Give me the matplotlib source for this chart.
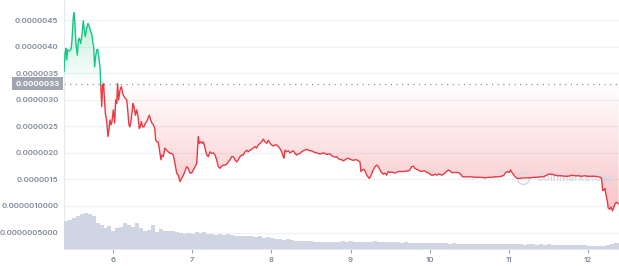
import numpy as np
import matplotlib
matplotlib.use("Agg")
import matplotlib.pyplot as plt
from matplotlib.path import Path
from matplotlib.patches import Rectangle

# price history: x = day of month, price in units of 1e-6 USD
days = [
    5.381, 5.394, 5.407, 5.415, 5.428, 5.448, 5.470, 5.482, 5.499, 5.508,
    5.519, 5.532, 5.549, 5.562, 5.574, 5.592, 5.605, 5.617, 5.625, 5.638,
    5.649, 5.668, 5.684, 5.701, 5.718, 5.731, 5.744, 5.755, 5.768, 5.780,
    5.794, 5.807, 5.819, 5.836, 5.845, 5.857, 5.870, 5.881, 5.890, 5.903,
    5.920, 5.937, 5.948, 5.962, 5.975, 5.987, 6.004, 6.021, 6.034, 6.047,
    6.058, 6.071, 6.088, 6.105, 6.122, 6.139, 6.155, 6.173, 6.189, 6.201,
    6.213, 6.226, 6.239, 6.253, 6.265, 6.282, 6.299, 6.316, 6.332, 6.345,
    6.357, 6.375, 6.391, 6.408, 6.425, 6.442, 6.458, 6.476, 6.492, 6.509,
    6.527, 6.539, 6.552, 6.568, 6.581, 6.593,
    6.606, 6.617, 6.635, 6.655, 6.678, 6.698, 6.720, 6.741, 6.761, 6.782,
    6.804, 6.824, 6.845, 6.867, 6.888, 6.908, 6.930, 6.949, 6.972, 6.993,
    7.014, 7.035, 7.057, 7.077, 7.090, 7.107, 7.124, 7.141, 7.162, 7.183,
    7.204, 7.225, 7.246, 7.266, 7.288, 7.309, 7.330, 7.351, 7.372, 7.393,
    7.414, 7.436, 7.456, 7.477, 7.499, 7.519, 7.540, 7.562, 7.582, 7.604,
    7.625, 7.645, 7.667, 7.688, 7.708, 7.730, 7.751, 7.771, 7.792, 7.813,
    7.834, 7.856, 7.877, 7.898, 7.919, 7.940, 7.961, 7.982, 8.004, 8.024,
    8.045, 8.067, 8.087, 8.109, 8.130, 8.150, 8.159, 8.172, 8.193, 8.213,
    8.235, 8.256, 8.277, 8.298, 8.318, 8.340, 8.361, 8.382, 8.403, 8.424,
    8.446, 8.466, 8.487, 8.509, 8.529, 8.551, 8.572, 8.592, 8.614, 8.635,
    8.656, 8.676, 8.698, 8.719, 8.740, 8.761, 8.782, 8.803, 8.824, 8.845,
    8.866, 8.888, 8.908, 8.929, 8.951, 8.971, 8.992, 9.014, 9.034, 9.056,
    9.077, 9.097, 9.119, 9.131, 9.148, 9.169, 9.186, 9.204, 9.224, 9.237,
    9.254, 9.270, 9.287, 9.308, 9.330, 9.346, 9.362, 9.380, 9.396, 9.413,
    9.433, 9.455, 9.476, 9.497, 9.518, 9.539, 9.561, 9.582, 9.602, 9.624,
    9.645, 9.665, 9.687, 9.708, 9.729, 9.750, 9.771, 9.792, 9.812, 9.835,
    9.855, 9.876, 9.897, 9.918, 9.939, 9.961, 9.981, 10.002, 10.024, 10.044,
    10.066, 10.087, 10.107, 10.129, 10.150, 10.170, 10.192, 10.213, 10.234, 10.255,
    10.275, 10.318, 10.360, 10.390, 10.415, 10.444, 10.486, 10.529, 10.571, 10.612,
    10.655, 10.697, 10.739, 10.782, 10.823, 10.865, 10.908, 10.937, 10.958, 10.984,
    11.004, 11.021, 11.038, 11.063, 11.085, 11.105, 11.139, 11.181, 11.223, 11.265,
    11.307, 11.350, 11.391, 11.433, 11.476, 11.496, 11.539, 11.581, 11.623, 11.665,
    11.707, 11.749, 11.792, 11.833, 11.875, 11.918, 11.960, 12.001, 12.044, 12.086,
    12.128, 12.158, 12.170, 12.183, 12.199, 12.212, 12.225, 12.241, 12.254, 12.275,
    12.288, 12.309, 12.326, 12.343, 12.361, 12.386,
]
prices = [
    3.53, 3.88, 3.97, 3.75, 3.94, 3.92, 3.95, 4.13, 4.57, 4.64,
    4.44, 4.06, 3.84, 4.13, 4.16, 4.06, 4.19, 4.38, 4.49, 4.31,
    4.19, 4.35, 4.44, 4.38, 4.28, 4.25, 4.09, 4.00, 3.62, 3.81,
    3.94, 3.95, 3.81, 3.62, 3.31, 2.87, 3.28, 3.31, 3.06, 2.75,
    2.59, 2.31, 2.43, 2.62, 2.53, 2.59, 2.81, 2.56, 3.00, 2.93,
    3.31, 3.00, 3.18, 3.25, 3.12, 3.06, 3.03, 3.00, 2.75, 2.53,
    2.49, 2.59, 2.75, 2.93, 2.87, 2.71, 2.81, 2.68, 2.46, 2.49,
    2.59, 2.49, 2.49, 2.56, 2.59, 2.65, 2.71, 2.62, 2.56, 2.53,
    2.46, 2.24, 2.21, 2.21, 2.12, 1.99,
    1.87, 1.96, 1.93, 2.09, 2.05, 2.02, 1.99, 1.99, 1.96, 1.80,
    1.62, 1.58, 1.46, 1.52, 1.58, 1.65, 1.74, 1.71, 1.62, 1.62,
    1.68, 1.74, 1.80, 2.31, 2.18, 2.21, 2.18, 2.21, 2.09, 1.96,
    1.93, 2.02, 1.99, 2.00, 1.96, 1.87, 1.74, 1.71, 1.75, 1.77,
    1.77, 1.79, 1.83, 1.87, 1.93, 1.93, 1.87, 1.83, 1.87, 1.93,
    1.96, 1.96, 2.02, 2.05, 2.02, 2.05, 2.07, 2.09, 2.12, 2.09,
    2.15, 2.18, 2.21, 2.26, 2.21, 2.18, 2.24, 2.18, 2.15, 2.13,
    2.15, 2.15, 2.12, 2.08, 2.02, 1.93, 1.90, 2.05, 2.02, 2.04,
    2.00, 2.02, 2.04, 1.99, 1.96, 1.98, 1.99, 2.02, 2.04, 2.05,
    2.07, 2.05, 2.04, 2.04, 2.02, 2.01, 2.00, 1.99, 1.98, 1.99,
    2.00, 1.99, 1.97, 1.98, 1.98, 1.95, 1.93, 1.92, 1.93, 1.89,
    1.88, 1.87, 1.85, 1.87, 1.89, 1.90, 1.88, 1.87, 1.86, 1.87,
    1.87, 1.85, 1.83, 1.65, 1.68, 1.69, 1.65, 1.58, 1.54, 1.52,
    1.56, 1.62, 1.68, 1.74, 1.77, 1.75, 1.71, 1.65, 1.62, 1.60,
    1.62, 1.58, 1.65, 1.63, 1.64, 1.63, 1.62, 1.63, 1.65, 1.65,
    1.65, 1.65, 1.65, 1.66, 1.66, 1.68, 1.74, 1.75, 1.71, 1.69,
    1.68, 1.66, 1.65, 1.66, 1.66, 1.63, 1.63, 1.60, 1.58, 1.58,
    1.60, 1.58, 1.60, 1.60, 1.58, 1.60, 1.62, 1.65, 1.68, 1.66,
    1.63, 1.63, 1.63, 1.60, 1.55, 1.55, 1.55, 1.55, 1.54, 1.54,
    1.54, 1.53, 1.54, 1.54, 1.55, 1.55, 1.56, 1.58, 1.63, 1.65,
    1.63, 1.68, 1.63, 1.58, 1.54, 1.52, 1.52, 1.53, 1.53, 1.53,
    1.54, 1.54, 1.55, 1.55, 1.58, 1.60, 1.60, 1.58, 1.57, 1.57,
    1.56, 1.56, 1.58, 1.57, 1.57, 1.56, 1.57, 1.56, 1.56, 1.56,
    1.55, 1.54, 1.52, 1.29, 1.30, 1.33, 1.21, 1.11, 0.96, 0.94,
    0.98, 0.91, 0.98, 1.05, 1.07, 1.04,
]
base_price = 3.3  # reference (opening) price, 1e-6 USD

# volume bars (arbitrary units), one every 0.05 day from 5.38
vol_start = 5.38
vol_step = 0.05
volumes = [
    28, 29, 31, 33, 35, 36, 35, 33, 26, 24, 21, 23, 18, 21, 22, 26, 24, 22, 26, 21,
    18, 19, 24, 17, 20, 18, 18.5, 18, 17.5, 16, 15, 16, 15, 17, 16.5, 17, 15.5, 15, 14.5, 15,
    14.5, 15, 14, 13.5, 13, 13.5, 13, 13, 12.5, 13, 11.5, 12, 11, 10, 10, 9.5, 10, 9.5, 8.5, 8.5,
    8, 8.5, 8, 7.5, 7.5, 7.5, 7, 7.5, 7, 7.5, 8, 7.5, 8, 7, 7.5, 7, 7.5, 7, 8, 7,
    7.5, 7, 7, 7.5, 7, 6.5, 7, 6.5, 6.5, 6, 6.5, 6, 6, 6.5, 6, 6, 6, 5.5, 6, 5.5,
    5.5, 5.5, 5.5, 5, 5.5, 5, 5.5, 5, 5.5, 5, 5, 5.5, 5, 5, 5, 5, 4.5, 5, 5, 4.5,
    5, 4.5, 5, 4.5, 4.5, 4.5, 4.5, 4, 4.5, 4, 4, 4, 3.5, 3, 3, 3, 3, 4, 5, 6, 6,
]

y_ticks = [0.5, 1.0, 1.5, 2.0, 2.5, 3.0, 3.5, 4.0, 4.5]
y_tick_labels = ["0.0000005000", "0.0000010000", "0.0000015", "0.0000020", "0.0000025",
                 "0.0000030", "0.0000035", "0.0000040", "0.0000045"]
x_ticks = [6, 7, 8, 9, 10, 11, 12]
x_tick_labels = ["6", "7", "8", "9", "10", "11", "12"]

GREEN = "#16c784"
RED = "#ea3943"
TEXT = "#7f889a"
GRID = "#eff2f5"

plt.rcParams["font.family"] = ["Inter", "DejaVu Sans"]

x = np.array(days)
p = np.array(prices) * 1e-6
base = base_price * 1e-6
xmin, xmax = 5.381, 12.39
ymin, ymax = 0.19e-6, 4.88e-6

fig = plt.figure(figsize=(6.19, 2.66), dpi=100)
ax = fig.add_axes([64 / 619, 17 / 266, 555 / 619, 249 / 266])
ax.set_xlim(xmin, xmax)
ax.set_ylim(ymin, ymax)

# gradient fills, clipped to the area between the line and the reference price
def gradient_fill(mask, color, y0, y1, a0, a1):
    coll = ax.fill_between(x, p, base, where=mask, interpolate=True,
                           facecolor="none", edgecolor="none")
    clip = Path.make_compound_path(*coll.get_paths())
    rgb = matplotlib.colors.to_rgb(color)
    img = np.zeros((256, 1, 4))
    img[:, 0, :3] = rgb
    img[:, 0, 3] = np.linspace(a0, a1, 256)
    im = ax.imshow(img, extent=(xmin, xmax, y0, y1), origin="lower",
                   aspect="auto", zorder=1, interpolation="bilinear")
    im.set_clip_path(clip, ax.transData)

gradient_fill(p <= base, RED, 0.9e-6, base, 0.30, 0.0)
gradient_fill(p >= base, GREEN, base, 4.7e-6, 0.0, 0.32)
ax.set_xlim(xmin, xmax)
ax.set_ylim(ymin, ymax)

line_r, = ax.plot(x, p, color=RED, lw=1.0, zorder=3)
line_r.set_clip_path(Rectangle((xmin, ymin), xmax - xmin, base - ymin, transform=ax.transData))
line_g, = ax.plot(x, p, color=GREEN, lw=1.0, zorder=3)
line_g.set_clip_path(Rectangle((xmin, base), xmax - xmin, ymax - base, transform=ax.transData))

ax.axhline(base, color="#8d94a2", lw=0.9, ls=(0, (1, 3.5)), zorder=2)

ax.set_yticks([v * 1e-6 for v in y_ticks])
ax.set_yticklabels(y_tick_labels)
ax.set_xticks(x_ticks)
ax.set_xticklabels(x_tick_labels)
ax.grid(axis="y", color=GRID, lw=0.9)
ax.set_axisbelow(True)
ax.tick_params(axis="y", length=0, pad=4, labelsize=5.6, labelcolor=TEXT)
ax.tick_params(axis="x", length=3, width=0.8, color="#9aa1ae", pad=3, labelsize=5.6, labelcolor=TEXT)
for lab in ax.get_xticklabels() + ax.get_yticklabels():
    lab.set_fontweight("semibold")
for side in ["top", "right"]:
    ax.spines[side].set_visible(False)
ax.spines["left"].set_color("#e6e9ee")
ax.spines["bottom"].set_color("#e6e9ee")
ax.spines["left"].set_linewidth(0.8)
ax.spines["bottom"].set_linewidth(0.8)

# current reference price label on the axis
ax.annotate("0.0000033", xy=(0, base), xycoords=("axes fraction", "data"),
            xytext=(-3, 0), textcoords="offset points", ha="right", va="center",
            fontsize=5.6, fontweight="bold", color="white",
            bbox=dict(boxstyle="square,pad=0.45", fc="#a0a5b1", ec="none"),
            annotation_clip=False)

# watermark
ax.plot([0.827], [0.287], transform=ax.transAxes, marker="o", ms=8.5, mfc="none",
        mec="#d3d8e1", mew=1.0, zorder=2)
ax.text(0.852, 0.287, "CoinMarketCap", transform=ax.transAxes, fontsize=7.4,
        color="#d3d8e1", va="center", ha="left", fontweight="semibold", zorder=2)

# volume
ax2 = ax.twinx()
vx = vol_start + vol_step * np.arange(len(volumes))
ax2.bar(vx, volumes, width=vol_step, align="edge", color="#cfd5e3", edgecolor="none", zorder=1)
ax2.set_ylim(0, 249)
ax2.set_xlim(xmin, xmax)
ax2.axis("off")

fig.savefig("out.png", dpi=100)
